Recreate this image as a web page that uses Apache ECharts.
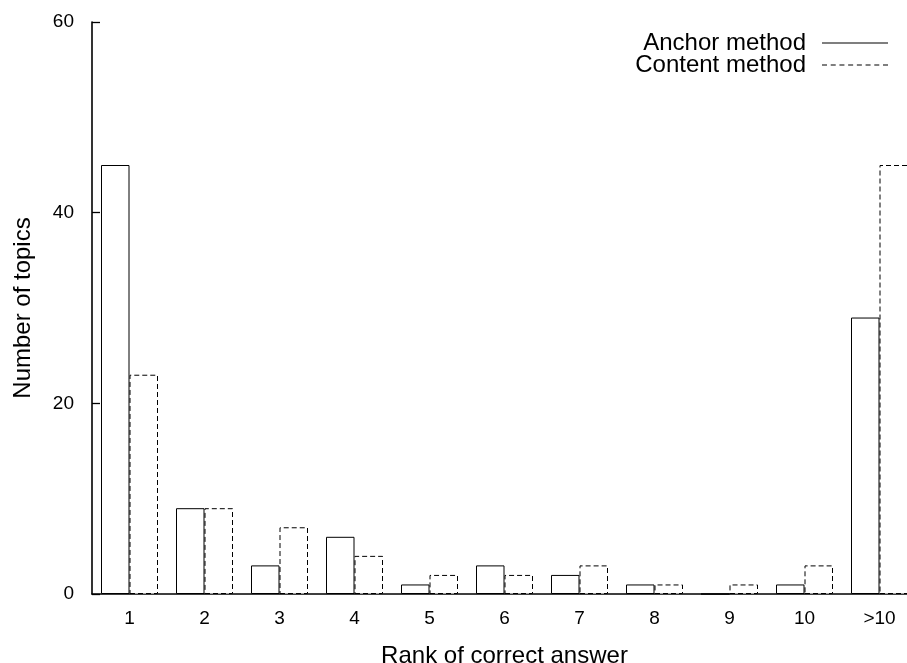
<!DOCTYPE html>
<html>
<head>
<meta charset="utf-8">
<title>Rank of correct answer</title>
<script src="https://cdn.jsdelivr.net/npm/echarts@6/dist/echarts.min.js"></script>
<style>
    html, body { margin: 0; padding: 0; background: #fff; }
    #main { width: 907px; height: 663px; }
</style>
</head>
<body>
<div id="main"></div>
<script>
const ranks = ['1', '2', '3', '4', '5', '6', '7', '8', '9', '10', '>10'];
const anchorCounts = [45, 9, 3, 6, 1, 3, 2, 1, 0, 1, 29];
const contentCounts = [23, 9, 7, 4, 2, 2, 3, 1, 1, 3, 45];
const yTicks = [0, 20, 40, 60];

const font = 'Liberation Sans, Arial, Helvetica, sans-serif';

// legend samples: a solid line and a dashed one
const solidIcon = 'path://M0,0H66V1H0Z';
const dashedIcon = 'path://M0,0h5v1h-5z M8.7,0h5v1h-5z M17.4,0h5v1h-5z M26.1,0h5v1h-5z ' +
    'M34.8,0h5v1h-5z M43.5,0h5v1h-5z M52.2,0h5v1h-5z M60.9,0h5v1h-5z';

const chart = echarts.init(document.getElementById('main'));

const option = {
    animation: false,
    backgroundColor: '#fff',
    textStyle: { fontFamily: font, color: '#000' },
    // the last band runs past the right edge of the picture, like the original
    grid: {
        left: 92,
        width: 825,
        top: 22,
        bottom: 69,
        outerBoundsMode: 'none'
    },
    legend: {
        orient: 'vertical',
        align: 'right',
        right: 19,
        top: 31,
        padding: 0,
        itemWidth: 66,
        itemHeight: 1.3,
        itemGap: -2,
        selectedMode: false,
        itemStyle: { color: '#000', borderWidth: 0 },
        textStyle: {
            fontFamily: font,
            fontSize: 24,
            lineHeight: 22,
            color: '#000',
            padding: [0, 11, 0, 0]
        },
        data: [
            { name: 'Anchor method', icon: solidIcon },
            { name: 'Content method', icon: dashedIcon }
        ]
    },
    xAxis: {
        type: 'category',
        data: ranks,
        name: 'Rank of correct answer',
        nameLocation: 'middle',
        nameGap: 50,
        nameTextStyle: { fontFamily: font, fontSize: 24, color: '#000' },
        axisLine: { lineStyle: { color: '#000', width: 1.6 } },
        axisTick: { show: false },
        axisLabel: { fontFamily: font, fontSize: 19, color: '#000', margin: 15 },
        splitLine: { show: false }
    },
    yAxis: {
        type: 'value',
        min: yTicks[0],
        max: yTicks[yTicks.length - 1],
        interval: yTicks[1] - yTicks[0],
        name: 'Number of topics',
        nameLocation: 'middle',
        nameGap: 57,
        nameTextStyle: { fontFamily: font, fontSize: 24, color: '#000' },
        axisLine: { show: true, lineStyle: { color: '#000', width: 1.6 } },
        axisTick: { show: true, inside: true, length: 8, lineStyle: { color: '#000', width: 1.3 } },
        axisLabel: { fontFamily: font, fontSize: 19, color: '#000', margin: 18 },
        splitLine: { show: false }
    },
    series: [
        {
            name: 'Anchor method',
            type: 'bar',
            data: anchorCounts,
            barWidth: 28.5,
            barGap: '0%',
            itemStyle: { color: '#fff', borderColor: '#000', borderWidth: 1 }
        },
        {
            name: 'Content method',
            type: 'bar',
            data: contentCounts,
            barWidth: 28.5,
            barGap: '0%',
            itemStyle: {
                color: '#fff',
                borderColor: '#000',
                borderWidth: 1,
                borderType: [5, 3]
            }
        }
    ]
};

chart.setOption(option);
</script>
</body>
</html>
